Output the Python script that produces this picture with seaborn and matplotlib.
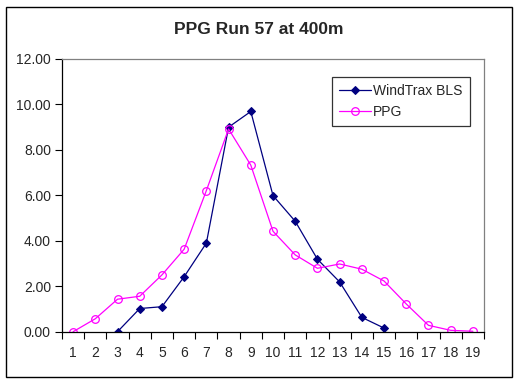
import numpy as np
import pandas as pd
import seaborn as sns
import matplotlib.pyplot as plt
from matplotlib.patches import Rectangle

positions = list(range(1, 20))
windtrax_x = [3, 4, 5, 6, 7, 8, 9, 10, 11, 12, 13, 14, 15]
windtrax_bls = [0.00, 1.02, 1.10, 2.42, 3.90, 9.00, 9.69, 5.99, 4.86, 3.19, 2.19, 0.63, 0.16]
ppg_x = positions
ppg = [0.00, 0.57, 1.43, 1.56, 2.50, 3.63, 6.21, 8.92, 7.33, 4.42,
       3.38, 2.79, 2.98, 2.75, 2.23, 1.22, 0.28, 0.06, 0.02]
y_ticks = [0, 2, 4, 6, 8, 10, 12]

df_w = pd.DataFrame({"pos": windtrax_x, "value": windtrax_bls})
df_p = pd.DataFrame({"pos": ppg_x, "value": ppg})

sns.set_style("white")
plt.rcParams["font.family"] = ["Liberation Sans", "DejaVu Sans"]

fig = plt.figure(figsize=(5.18, 3.85), dpi=100)
ax = fig.add_axes([62 / 518, 1 - 331.7 / 385, 422 / 518, 272.7 / 385])

sns.lineplot(data=df_w, x="pos", y="value", ax=ax, color="#000080", lw=0.9,
             marker="D", markersize=4.5, markerfacecolor="#000080",
             markeredgecolor="#000080", label="WindTrax BLS")
sns.lineplot(data=df_p, x="pos", y="value", ax=ax, color="#FF00FF", lw=0.9,
             marker="o", markersize=5.5, markerfacecolor="none",
             markeredgecolor="#FF00FF", markeredgewidth=0.9, label="PPG")

ax.set_xlim(0.5, 19.5)
ax.set_ylim(0, 12)
ax.set_xticks(positions)
ax.set_xticklabels([str(p) for p in positions], fontsize=10)
ax.set_xticks(np.arange(0.5, 20, 1), minor=True)
ax.set_yticks(y_ticks)
ax.set_yticklabels([f"{v:.2f}" for v in y_ticks], fontsize=10)
ax.tick_params(axis="x", which="major", length=0, pad=10)
ax.tick_params(axis="x", which="minor", length=5, direction="out", width=0.8,
               color="black", bottom=True)
ax.tick_params(axis="y", length=5, direction="out", width=0.8, color="black",
               left=True, pad=3)
ax.set_xlabel("")
ax.set_ylabel("")

for side in ["left", "bottom"]:
    ax.spines[side].set_color("black")
    ax.spines[side].set_linewidth(0.9)
for side in ["top", "right"]:
    ax.spines[side].set_color("#808080")
    ax.spines[side].set_linewidth(0.9)

leg = ax.legend(loc="upper left", bbox_to_anchor=(0.639, 0.935), frameon=True,
                fancybox=False, edgecolor="black", fontsize=10, borderpad=0.5,
                handlelength=2.3, handletextpad=0.2, labelspacing=0.5,
                borderaxespad=0)
leg.get_frame().set_linewidth(0.9)

fig.text(259 / 518, 1 - 30 / 385, "PPG Run 57 at 400m", ha="center",
         va="center", fontsize=12.5, fontweight="bold")

fig.patches.append(Rectangle((5.5 / 518, 1 - 377 / 385), 506 / 518, 370 / 385,
                             transform=fig.transFigure, fill=False,
                             edgecolor="black", linewidth=1))

fig.savefig("out.png", dpi=100)
